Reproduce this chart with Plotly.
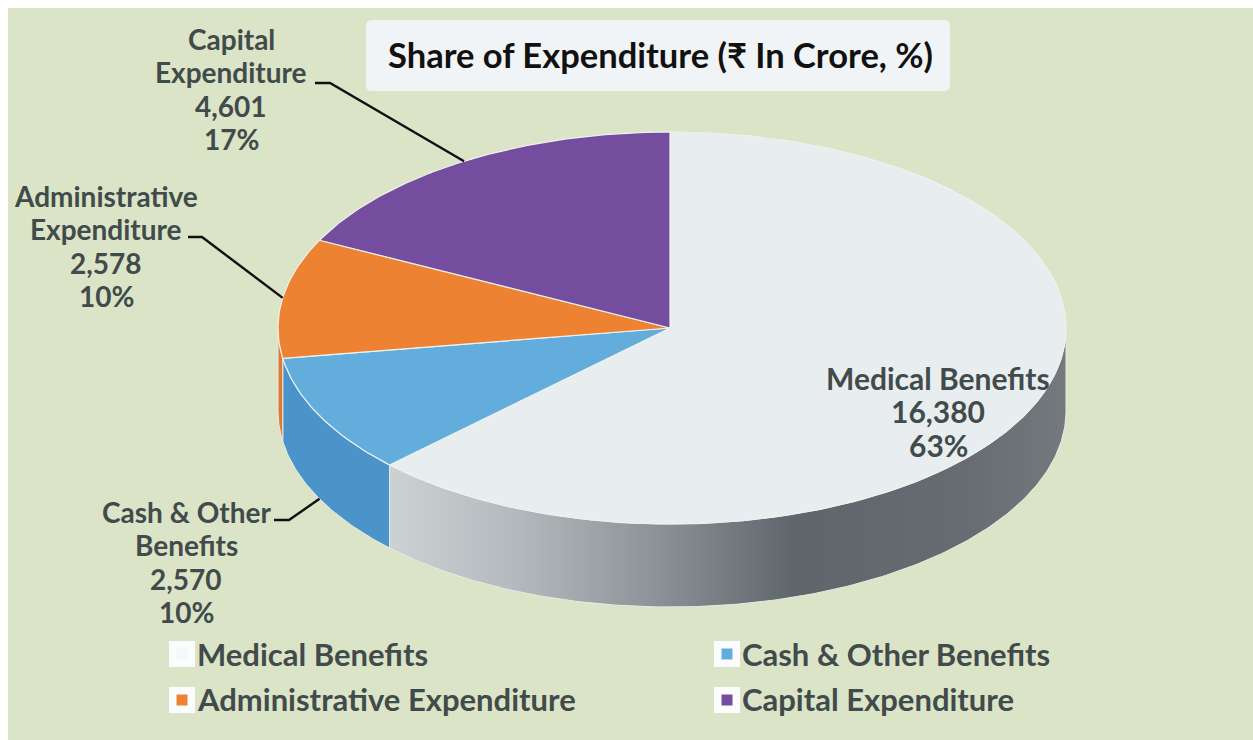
import numpy as np
import plotly.graph_objects as go

categories = ["Medical Benefits", "Cash & Other Benefits", "Administrative Expenditure", "Capital Expenditure"]
values = [16380, 2570, 2578, 4601]
percents = [63, 10, 10, 17]
top_colors = ["#e8edf0", "#62addc", "#ee8233", "#744d9f"]
side_colors = ["#9aa0a5", "#4b94c9", "#e07a30", "#5f3f88"]
label_lines = [["Medical Benefits"], ["Cash & Other", "Benefits"], ["Administrative", "Expenditure"], ["Capital", "Expenditure"]]

W, H = 1253, 740
CX, CY, RX_R, RX_L, RY, DEPTH = 670, 328, 396, 392, 196, 83
FONT = "Lato"
TXT = "#414b4b"
edges = np.cumsum([0] + values) / sum(values) * 2 * np.pi


def pt(t, dy=0):
    s = np.sin(t)
    return CX + np.where(s >= 0, RX_R, RX_L) * s, CY - RY * np.cos(t) + dy


def arc(a, b, dy=0):
    n = max(2, int(abs(b - a) * 80))
    return pt(np.linspace(a, b, n), dy)


fig = go.Figure()

# Side wall: only the visible front half (angle pi/2 .. 3pi/2)
for i, cat in enumerate(categories):
    a, b = max(edges[i], np.pi / 2), min(edges[i + 1], 3 * np.pi / 2)
    if b <= a:
        continue
    x1, y1 = arc(a, b)
    x2, y2 = arc(b, a, DEPTH)
    kw = dict(fillcolor=side_colors[i])
    if i == 0:
        kw = dict(fillgradient=dict(type="horizontal", colorscale=[
            [0, "#ccd1d4"], [0.18, "#b4babd"], [0.38, "#8f969b"], [0.6, "#5f666b"],
            [0.85, "#666c71"], [1, "#74797e"]]))
    fig.add_trace(go.Scatter(x=np.r_[x1, x2, x1[0]], y=np.r_[y1, y2, y1[0]], mode="lines", fill="toself",
                             line=dict(color="#e4ebe8", width=1), showlegend=False, hoverinfo="skip", **kw))

# Top face
for i, cat in enumerate(categories):
    x, y = arc(edges[i], edges[i + 1])
    fig.add_trace(go.Scatter(x=np.r_[CX, x, CX], y=np.r_[CY, y, CY], mode="lines", fill="toself",
                             fillcolor=top_colors[i], line=dict(color="#eef1ee", width=1.2),
                             name=cat, showlegend=False, hovertemplate=f"{cat}: {values[i]:,} ({percents[i]}%)<extra></extra>"))

# Leader lines end on the wedge's mid-angle
mid = (edges[:-1] + edges[1:]) / 2
leaders = {
    1: ((274, 520), (289, 520), pt(mid[1], DEPTH)),
    2: ((188, 237), (202, 237), pt(mid[2])),
    3: ((315, 83), (330, 83), pt(mid[3])),
}
for k, (p0, p1, p2) in leaders.items():
    fig.add_trace(go.Scatter(x=[p0[0], p1[0], float(p2[0])], y=[p0[1], p1[1], float(p2[1])], mode="lines",
                             line=dict(color="#111", width=2.4), showlegend=False, hoverinfo="skip"))

# Legend keys
legend_pos = [(182, 654), (727, 654), (182, 700), (727, 700)]
legend_text_y = [654, 654, 699, 699]
for i, (lx, ly) in enumerate(legend_pos):
    fig.add_trace(go.Scatter(x=[lx], y=[ly], mode="markers", marker=dict(symbol="square", size=26, color="#fbfcfd"),
                             showlegend=False, hoverinfo="skip"))
    fig.add_trace(go.Scatter(x=[lx], y=[ly], mode="markers",
                             marker=dict(symbol="square", size=11, color="#f6f7f9" if i == 0 else top_colors[i]),
                             showlegend=False, hoverinfo="skip"))
    fig.add_annotation(x=lx + 13, y=legend_text_y[i], text=f"<b>{categories[i]}</b>", xanchor="left", yanchor="middle",
                       showarrow=False, font=dict(family=FONT, size=31, color=TXT))

# Data labels, one annotation per line to hold the reference's line pitch
label_center = [938, 186, 106, 231]
label_top = [378, 512, 196, 39]
label_size = [30, 28, 28, 28]
PITCH = 33.3
for i, lx in enumerate(label_center):
    lines = label_lines[i] + [f"{values[i]:,}", f"{percents[i]}%"]
    for j, line in enumerate(lines):
        fig.add_annotation(x=lx, y=label_top[i] + j * PITCH, text=f"<b>{line}</b>", xanchor="center", yanchor="middle",
                           showarrow=False, font=dict(family=FONT, size=label_size[i], color=TXT))

# Title
fig.add_annotation(x=660, y=54, text="<b>Share of Expenditure (₹ In Crore, %)</b>", showarrow=False,
                   xanchor="center", yanchor="middle", font=dict(family=FONT, size=34.5, color="#111"))

shapes = [
    dict(type="rect", xref="x", yref="y", x0=8, x1=W, y0=8, y1=H, fillcolor="#dbe4c6", line_width=0, layer="below"),
    dict(type="path", xref="x", yref="y", layer="below", fillcolor="#f1f4f6", line_width=0,
         path="M372,20 L944,20 Q950,20 950,26 L950,85 Q950,91 944,91 L372,91 Q366,91 366,85 L366,26 Q366,20 372,20 Z"),
]
fig.update_layout(
    width=W, height=H, margin=dict(l=0, r=0, t=0, b=0), paper_bgcolor="#ffffff", plot_bgcolor="#ffffff",
    xaxis=dict(range=[0, W], visible=False, fixedrange=True),
    yaxis=dict(range=[H, 0], visible=False, fixedrange=True),
    shapes=shapes, showlegend=False,
)
fig.write_html("out.html", config={"displayModeBar": False},
               post_script="document.body.style.margin='0';document.body.style.overflow='hidden';")
